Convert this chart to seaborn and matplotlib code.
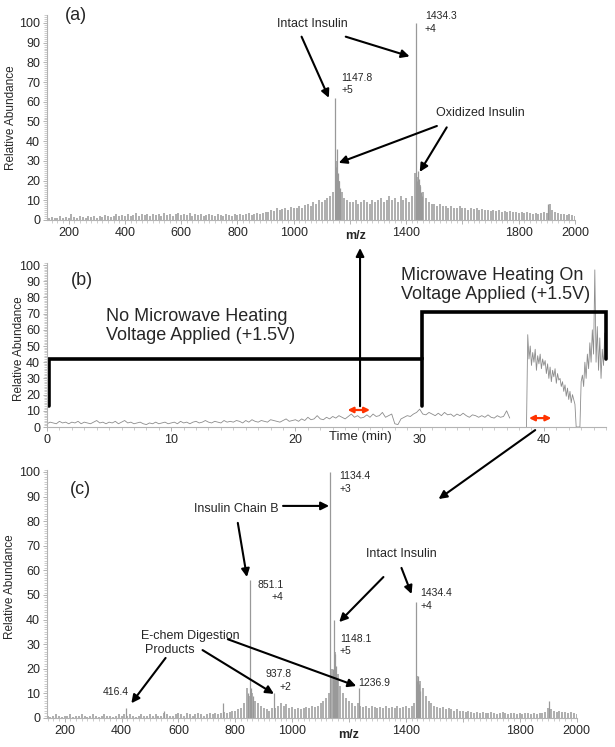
import numpy as np
import matplotlib
matplotlib.use('Agg')
import matplotlib.pyplot as plt
from matplotlib.ticker import MultipleLocator
import seaborn as sns

sns.set_style('ticks')
plt.rcParams['font.family'] = ['Liberation Sans', 'DejaVu Sans']

# ---------------- data ----------------
# (a) mass spectrum before heating: noise sticks every 10 m/z from 130 to 2000
noise_a = [
    1, 1.5, 1, 1, 2, 1, 1.5, 1, 3, 1.5,
    1, 2, 1.5, 1, 2, 1.5, 2, 1, 2, 1.5,
    2.5, 2, 1.5, 2, 3, 2, 2.5, 2, 3, 2,
    2.5, 3.5, 2, 3, 2.5, 3, 2, 3, 2.5, 3,
    2, 3.5, 2.5, 3, 2, 3, 3.5, 2.5, 3, 2.5,
    3.5, 2, 3, 2.5, 3, 2, 2.5, 3, 2.5, 2,
    3, 2.5, 2, 3, 2.5, 2, 3, 2.5, 3, 2.5,
    3, 3.5, 2.5, 3, 3.5, 3, 3.5, 4, 4, 5,
    4.5, 6, 5, 5.5, 6, 5, 6.5, 6, 6, 7,
    6, 7.5, 8, 7, 9, 8, 10, 9, 10, 11,
    12, 14, 30, 20, 14, 11, 10, 9, 9, 10,
    8, 9, 10, 9, 8, 10, 9, 10, 11, 9,
    10, 12, 10, 11, 9, 12, 10, 11, 9, 12,
    24, 22, 18, 14, 11, 9, 8, 8, 7, 8,
    7, 7, 6, 7, 6, 6, 7, 6, 6, 5,
    6, 5.5, 6, 5, 5.5, 5, 5, 4.5, 5, 4.5,
    5, 4, 4.5, 4, 4.5, 4, 4, 3.5, 4, 3.5,
    4, 3.5, 3, 3.5, 3, 3.5, 4, 3.5, 8, 5,
    4, 3.5, 3, 3, 2.5, 3, 2.5, 2,
]
peaks_a_mz = [1147.8, 1151.5, 1155.2, 1159, 1162.5, 1166,
              1434.3, 1438, 1441.5, 1445, 1448.5, 1452, 1456, 1905]
peaks_a_int = [62, 27, 36, 24, 20, 16,
               100, 20, 25, 21, 17, 14, 12, 8]

# (c) mass spectrum after heating: noise sticks every 10 m/z from 140 to 2000
noise_c = [
    1, 0.5, 1, 1.5, 1, 0.5, 1, 1, 1.5, 0.5,
    1, 1, 1.5, 1, 0.5, 1, 1.5, 1, 0.5, 1,
    1.5, 1, 1, 0.5, 1, 1.5, 1, 1.5, 1, 1.5,
    1, 0.5, 1, 1.5, 1, 1, 1.5, 1, 1.5, 1,
    1, 2, 1.5, 1, 1, 1.5, 2, 1.5, 1, 2,
    1.5, 1, 1.5, 2, 1.5, 1, 1.5, 2, 1.5, 2,
    1.5, 2, 2.5, 2, 2.5, 3, 3, 3.5, 4, 6,
    12, 9, 10, 7, 6, 5, 4, 3.5, 3, 4,
    4, 5, 6, 5, 5.5, 4, 4.5, 3.5, 4, 3.5,
    4, 4.5, 4, 5, 4.5, 5, 6, 7, 8, 10,
    20, 27, 18, 13, 10, 8, 7, 6, 5, 6,
    5, 4.5, 5, 4, 5, 4.5, 4, 4.5, 4, 5,
    4, 4.5, 4, 5, 4, 4.5, 5, 4, 5, 6,
    17, 15, 12, 9, 7, 6, 5, 4.5, 4, 4.5,
    3.5, 4, 3.5, 3, 3.5, 3, 3, 2.5, 3, 2.5,
    2, 2.5, 2, 2.5, 2, 2, 2.5, 2, 1.5, 2,
    2.5, 2, 1.5, 2, 2, 1.5, 2, 1.5, 2, 2,
    1.5, 2, 1.5, 2, 2, 2.5, 4, 3.5, 3, 2.5,
    3, 2.5, 2.5, 2, 2.5, 2, 1.5,
]
peaks_c_mz = [416.4, 551, 757.5, 845, 851.1, 856, 862, 937.8,
              1134.4, 1144.5, 1148.1, 1151.5, 1155, 1159, 1236.9,
              1434.4, 1438, 1442, 1446, 1450, 1905]
peaks_c_int = [4, 3, 6, 10, 56, 12, 9, 10,
               100, 20, 40, 26, 21, 16, 12,
               47, 15, 17, 14, 11, 7]

# (b) ion chromatogram, part 1: every 0.25 min from 0 to 37.25 min
tic_vals1 = [
    2, 3, 2.5, 2, 3.5, 2.5, 3, 2, 3, 2.5, 3.5, 2, 3, 2.5, 2, 3, 4, 2.5, 3, 2,
    3, 2.5, 3.5, 2, 3, 4, 2.5, 3, 2, 2.5, 3, 2, 1.5, 2.5, 2, 3, 2, 2.5, 3, 2,
    2.5, 3, 2, 3.5, 2.5, 3, 2, 3, 3.5, 2.5, 3, 4, 3, 2.5, 3.5, 3, 2.5, 4, 3, 3.5,
    3, 4, 3.5, 2.5, 4, 3, 4.5, 3.5, 3, 4, 3.5, 3, 4.5, 4, 3.5, 3, 4, 5, 3.5, 4,
    4.5, 3.5, 5, 4, 6, 4.5, 5, 7, 5, 4.5, 6, 5, 6.5, 5.5, 7, 6, 5, 6.5, 8, 6,
    7, 5.5, 6, 7.5, 6, 8, 6.5, 7, 9, 6, 7, 8, 2, 1.5, 5, 6, 7, 6.5, 8, 9,
    11, 8, 7.5, 9, 8, 7, 8.5, 7, 9, 7.5, 8, 6.5, 8, 7, 8.5, 7, 6, 7.5, 7, 6,
    7, 6, 7.5, 6, 5.5, 7, 6, 6.5, 10, 5.5,
]
# part 2: every 0.1 min from 38.6 to 45.0 min (microwave heating on)
tic_vals2 = [
    0,
    57, 42, 50, 38, 46, 40, 48, 35, 44, 39, 45, 36, 42, 38,
    41, 33, 39, 30, 37, 28, 35, 31, 36, 27, 33, 29, 30, 25,
    28, 22, 26, 19, 24, 17, 22, 15, 20, 17,
    14, 0, 0, 0, 0, 28,
    32, 25, 40, 30, 45, 36, 52, 40, 60, 45,
    97,
    40, 62, 35, 55, 30, 48, 38, 58, 42,
]
mz_ticks = [200, 400, 600, 800, 1000, 1200, 1400, 1600, 1800, 2000]
mz_ticklabels = ['200', '400', '600', '800', '1000', '', '1400', '', '1800', '2000']
time_ticks = [0, 10, 20, 30, 40]

mz_a = np.arange(130, 2001, 10)
mz_c = np.arange(140, 2001, 10)
tic_time1 = np.arange(len(tic_vals1)) * 0.25
tic_time2 = 38.6 + np.arange(len(tic_vals2)) * 0.1

# ---------------- figure ----------------
W, H = 615, 747
fig = plt.figure(figsize=(W / 100, H / 100), dpi=100)


def px_axes(x0, x1, ytop, ybot):
    return fig.add_axes([x0 / W, 1 - ybot / H, (x1 - x0) / W, (ybot - ytop) / H])


def style_axis(ax):
    sns.despine(ax=ax)
    for s in ('left', 'bottom'):
        ax.spines[s].set_color('0.7')
        ax.spines[s].set_linewidth(0.8)
    ax.tick_params(which='both', direction='out', color='0.65', labelsize=9, pad=2)
    ax.tick_params(which='major', length=3, width=0.6)
    ax.tick_params(which='minor', length=2, width=0.4)
    ax.yaxis.set_major_locator(MultipleLocator(10))
    ax.yaxis.set_minor_locator(MultipleLocator(1))
    ax.set_ylabel('Relative Abundance', fontsize=8.5)


ARROW = dict(arrowstyle='-|>', color='k', lw=1.5, mutation_scale=12, shrinkA=0, shrinkB=0)
SPEC_COLOR = '0.6'

# ---- (a)
ax_a = px_axes(47, 575, 15, 220)
ax_a.vlines(mz_a, 0, noise_a, color=SPEC_COLOR, lw=1.1)
ax_a.vlines(peaks_a_mz, 0, peaks_a_int, color=SPEC_COLOR, lw=0.9)
ax_a.set_xlim(123, 2000)
ax_a.set_ylim(0, 104)
style_axis(ax_a)
ax_a.set_xticks(mz_ticks)
ax_a.set_xticklabels(mz_ticklabels)
ax_a.xaxis.set_minor_locator(MultipleLocator(20))
ax_a.yaxis.set_label_coords(-0.057, 0.5)
ax_a.text(1220, -0.078, 'm/z', transform=ax_a.get_xaxis_transform(), ha='center',
          va='center', fontsize=9, fontweight='bold')
ax_a.text(226, 103.5, '(a)', fontsize=13, ha='center', va='center')
ax_a.text(1067, 99.5, 'Intact Insulin', fontsize=9, ha='center', va='center')
ax_a.annotate('', xy=(1125, 62), xytext=(1028, 93), arrowprops=ARROW)
ax_a.annotate('', xy=(1412, 83), xytext=(1185, 93), arrowprops=ARROW)
ax_a.text(1466, 103.5, '1434.3', fontsize=7.5, va='center')
ax_a.text(1466, 97, '+4', fontsize=7.5, va='center')
ax_a.text(1170, 72, '1147.8', fontsize=7.5, va='center')
ax_a.text(1170, 66, '+5', fontsize=7.5, va='center')
ax_a.text(1665, 54.3, 'Oxidized Insulin', fontsize=9, ha='center', va='center')
ax_a.annotate('', xy=(1160, 29), xytext=(1509, 47.7), arrowprops=ARROW)
ax_a.annotate('', xy=(1448, 24.4), xytext=(1544, 47), arrowprops=ARROW)

# ---- (b)
ax_b = px_axes(47, 606, 263.4, 427)
sns.lineplot(x=tic_time1, y=tic_vals1, ax=ax_b, color='0.55', lw=0.6)
sns.lineplot(x=tic_time2, y=tic_vals2, ax=ax_b, color='0.55', lw=0.6)
ax_b.set_xlim(0, 45)
ax_b.set_ylim(0, 101)
style_axis(ax_b)
ax_b.set_xticks(time_ticks)
ax_b.xaxis.set_minor_locator(MultipleLocator(1))
ax_b.yaxis.set_label_coords(-0.039, 0.48)
ax_b.text(25.2, -0.061, 'Time (min)', transform=ax_b.get_xaxis_transform(),
          ha='center', va='center', fontsize=9.5)
ax_b.text(2.8, 90.7, '(b)', fontsize=13, ha='center', va='center')
ax_b.plot([0.15, 0.15, 30.2, 30.2], [13, 42, 42, 13], color='k', lw=2.6,
          solid_joinstyle='miter', clip_on=False)
ax_b.plot([30.2, 30.2, 45, 45], [42, 71, 71, 42], color='k', lw=2.6,
          solid_joinstyle='miter', clip_on=False)
ax_b.text(4.75, 62.5, 'No Microwave Heating\nVoltage Applied (+1.5V)',
          fontsize=13, va='center', linespacing=1.15)
ax_b.text(28.5, 87.5, 'Microwave Heating On\nVoltage Applied (+1.5V)',
          fontsize=13, va='center', linespacing=1.15)
ax_b.annotate('', xy=(25.2, 110.5), xytext=(25.2, 12.8), arrowprops=ARROW,
              annotation_clip=False)
RED = dict(arrowstyle='<|-|>', color='#ff3300', lw=1.6, mutation_scale=8,
           shrinkA=0, shrinkB=0)
ax_b.annotate('', xy=(26.0, 10.5), xytext=(24.2, 10.5), arrowprops=RED)
ax_b.annotate('', xy=(40.6, 5.5), xytext=(38.8, 5.5), arrowprops=RED)

# ---- (c)
ax_c = px_axes(47, 576.5, 469.5, 718)
ax_c.vlines(mz_c, 0, noise_c, color=SPEC_COLOR, lw=1.1)
ax_c.vlines(peaks_c_mz, 0, peaks_c_int, color=SPEC_COLOR, lw=0.9)
ax_c.set_xlim(138, 2000)
ax_c.set_ylim(0, 101)
style_axis(ax_c)
ax_c.set_xticks(mz_ticks)
ax_c.set_xticklabels(mz_ticklabels)
ax_c.xaxis.set_minor_locator(MultipleLocator(20))
ax_c.yaxis.set_label_coords(-0.058, 0.53)
ax_c.text(1197, -0.068, 'm/z', transform=ax_c.get_xaxis_transform(), ha='center',
          va='center', fontsize=9, fontweight='bold')
ax_c.text(254.5, 92.7, '(c)', fontsize=13, ha='center', va='center')
ax_c.text(1166, 98.4, '1134.4', fontsize=7.5, va='center')
ax_c.text(1166, 93, '+3', fontsize=7.5, va='center')
ax_c.text(802, 85, 'Insulin Chain B', fontsize=9, ha='center', va='center')
ax_c.annotate('', xy=(1130, 86.2), xytext=(968, 86.2), arrowprops=ARROW)
ax_c.annotate('', xy=(841, 57.3), xytext=(809, 79.3), arrowprops=ARROW)
ax_c.text(879.5, 54, '851.1', fontsize=7.5, va='center')
ax_c.text(929, 49, '+4', fontsize=7.5, va='center')
ax_c.text(1384.5, 66.7, 'Intact Insulin', fontsize=9, ha='center', va='center')
ax_c.annotate('', xy=(1165.5, 39), xytext=(1321, 57.3), arrowprops=ARROW)
ax_c.annotate('', xy=(1420, 50.4), xytext=(1384.5, 61), arrowprops=ARROW)
ax_c.text(1451.6, 50.8, '1434.4', fontsize=7.5, va='center')
ax_c.text(1451.6, 45.5, '+4', fontsize=7.5, va='center')
ax_c.text(1168, 32, '1148.1', fontsize=7.5, va='center')
ax_c.text(1168, 27.2, '+5', fontsize=7.5, va='center')
ax_c.text(470, 33.3, 'E-chem Digestion', fontsize=9, va='center')
ax_c.text(484, 27.6, 'Products', fontsize=9, va='center')
ax_c.annotate('', xy=(434.6, 6), xytext=(555, 24.4), arrowprops=ARROW)
ax_c.annotate('', xy=(936, 9.8), xytext=(685, 27.6), arrowprops=ARROW)
ax_c.annotate('', xy=(1225.6, 13), xytext=(774, 32), arrowprops=ARROW)
ax_c.text(907.8, 17.9, '937.8', fontsize=7.5, va='center')
ax_c.text(957, 12.6, '+2', fontsize=7.5, va='center')
ax_c.text(1233, 14.2, '1236.9', fontsize=7.5, va='center')
ax_c.text(335.7, 10.6, '416.4', fontsize=7.5, va='center')

# arrow linking the heated region of the chromatogram to spectrum (c)
ax_c.annotate('', xy=(1515, 89), xytext=(39.3, -1.9), textcoords=ax_b.transData,
              arrowprops=ARROW, annotation_clip=False)

fig.savefig('out.png', dpi=100, facecolor='white')
